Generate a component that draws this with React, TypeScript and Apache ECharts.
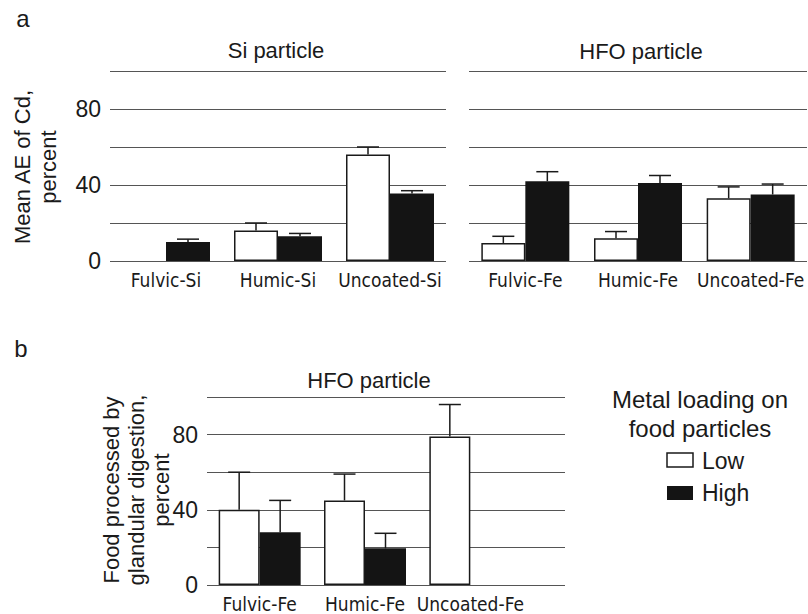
import React, { useEffect, useRef } from "react";
import * as echarts from "echarts";

const siCategories = ["Fulvic-Si", "Humic-Si", "Uncoated-Si"];
const siLow = [null, 16, 56];
const siLowErr = [null, 20, 60];
const siHigh = [10, 13, 35.5];
const siHighErr = [11.5, 14.5, 37];

const feCategories = ["Fulvic-Fe", "Humic-Fe", "Uncoated-Fe"];
const feLow = [9.5, 12, 33];
const feLowErr = [13, 15.5, 39];
const feHigh = [42, 41, 35];
const feHighErr = [47, 45, 40.5];

const digCategories = ["Fulvic-Fe", "Humic-Fe", "Uncoated-Fe"];
const digLow = [40, 45, 79];
const digLowErr = [60, 59, 96];
const digHigh = [28, 19.5, null];
const digHighErr = [45, 27.5, null];

const yTicks = [0, 40, 80];

const FONT = "Liberation Sans";
const NARROW = "'Liberation Sans Narrow', 'DejaVu Sans Condensed', sans-serif";
const INK = "#1a1a1a";
const GRIDC = "#555";

function errData(vals: (number | null)[], errs: (number | null)[], side: number) {
  const out: any[] = [];
  vals.forEach((v, i) => {
    if (v != null && errs[i] != null) out.push([i, v, errs[i], side]);
  });
  return out;
}

function errSeries(xi: number, yi: number, data: any[], bw: number) {
  return {
    type: "custom",
    xAxisIndex: xi,
    yAxisIndex: yi,
    z: 5,
    data,
    renderItem: (params: any, api: any) => {
      const cat = api.value(0);
      const v = api.value(1);
      const top = api.value(2);
      const side = api.value(3);
      const b = api.coord([cat, v]);
      const t = api.coord([cat, top]);
      const x = b[0] + (side * bw) / 2;
      const st = { stroke: INK, lineWidth: 1.5 };
      return {
        type: "group",
        children: [
          { type: "line", shape: { x1: x, y1: b[1], x2: x, y2: t[1] }, style: st },
          { type: "line", shape: { x1: x - 11, y1: t[1], x2: x + 11, y2: t[1] }, style: st },
        ],
      };
    },
  };
}

function yAx(gi: number, showLabel: boolean, showSplit: boolean, margin: number) {
  return {
    type: "value",
    gridIndex: gi,
    min: 0,
    max: 100,
    interval: 20,
    axisLine: { show: false },
    axisTick: { show: false },
    axisLabel: {
      show: showLabel,
      fontFamily: FONT,
      fontSize: 23,
      color: INK,
      margin,
      formatter: (v: number) => (yTicks.includes(v) ? String(v) : ""),
    },
    splitLine: { show: showSplit, lineStyle: { color: GRIDC, width: 1 } },
  };
}

function xAx(gi: number, cats: string[], show: boolean, margin: number) {
  return {
    type: "category",
    gridIndex: gi,
    data: cats,
    axisLine: { show: false },
    axisTick: { show: false },
    axisLabel: {
      show,
      fontFamily: NARROW,
      fontSize: 19,
      color: INK,
      margin,
      interval: 0,
    },
    splitLine: { show: false },
  };
}

const lowStyle = { color: "#fff", borderColor: INK, borderWidth: 1.5 };
const highStyle = { color: "#141414" };

export default function App() {
  const ref = useRef<HTMLDivElement>(null);
  useEffect(() => {
    if (!ref.current) return;
    const chart = echarts.init(ref.current, null, { renderer: "svg" });
    const txt = (x: number, y: number, text: string, size: number, extra: any = {}) => ({
      type: "text",
      x,
      y,
      ...extra,
      style: {
        text,
        fontFamily: FONT,
        fontSize: size,
        fill: INK,
        textAlign: "center",
        textVerticalAlign: "middle",
        ...(extra.style || {}),
      },
    });
    chart.setOption({
      animation: false,
      grid: [
        { left: 110, top: 71, width: 336, height: 190 },
        { left: 469, top: 71, width: 338, height: 190 },
        { left: 207, top: 397, width: 358, height: 188 },
        { left: 207, top: 397, width: 316, height: 188 },
      ],
      xAxis: [
        xAx(0, siCategories, true, 9),
        xAx(1, feCategories, true, 9),
        xAx(2, digCategories, false, 9),
        xAx(3, digCategories, true, 9),
      ],
      yAxis: [
        yAx(0, true, true, 9),
        yAx(1, false, true, 9),
        yAx(2, true, true, 9),
        yAx(3, false, false, 9),
      ],
      series: [
        { type: "bar", name: "Low", xAxisIndex: 0, yAxisIndex: 0, data: siLow, barWidth: 44, barGap: "0%", itemStyle: lowStyle },
        { type: "bar", name: "High", xAxisIndex: 0, yAxisIndex: 0, data: siHigh, barWidth: 44, barGap: "0%", itemStyle: highStyle },
        { type: "bar", name: "Low", xAxisIndex: 1, yAxisIndex: 1, data: feLow, barWidth: 44, barGap: "0%", itemStyle: lowStyle },
        { type: "bar", name: "High", xAxisIndex: 1, yAxisIndex: 1, data: feHigh, barWidth: 44, barGap: "0%", itemStyle: highStyle },
        { type: "bar", name: "Low", xAxisIndex: 3, yAxisIndex: 3, data: digLow, barWidth: 41, barGap: "0%", itemStyle: lowStyle },
        { type: "bar", name: "High", xAxisIndex: 3, yAxisIndex: 3, data: digHigh, barWidth: 41, barGap: "0%", itemStyle: highStyle },
        errSeries(0, 0, errData(siLow, siLowErr, -1), 44),
        errSeries(0, 0, errData(siHigh, siHighErr, 1), 44),
        errSeries(1, 1, errData(feLow, feLowErr, -1), 44),
        errSeries(1, 1, errData(feHigh, feHighErr, 1), 44),
        errSeries(3, 3, errData(digLow, digLowErr, -1), 41),
        errSeries(3, 3, errData(digHigh, digHighErr, 1), 41),
      ],
      graphic: [
        txt(23, 18, "a", 24),
        txt(276, 50, "Si particle", 22),
        txt(641, 51, "HFO particle", 22),
        txt(35, 167, "Mean AE of Cd,\npercent", 22, { rotation: Math.PI / 2, style: { lineHeight: 26 } }),
        txt(21, 348, "b", 24),
        txt(369, 380, "HFO particle", 22),
        txt(136, 490, "Food processed by\nglandular digestion,\npercent", 22, {
          rotation: Math.PI / 2,
          style: { lineHeight: 25 },
        }),
        txt(700, 399, "Metal loading on", 24),
        txt(700, 428, "food particles", 24),
        { type: "rect", shape: { x: 667, y: 453, width: 26, height: 14 }, style: { fill: "#fff", stroke: INK, lineWidth: 1.5 } },
        txt(702, 461, "Low", 23, { style: { textAlign: "left" } }),
        { type: "rect", shape: { x: 667, y: 486, width: 26, height: 14 }, style: { fill: "#141414" } },
        txt(702, 493, "High", 23, { style: { textAlign: "left" } }),
      ],
    });
    return () => chart.dispose();
  }, []);
  return <div ref={ref} style={{ width: 808, height: 614, position: "absolute", left: 0, top: 0 }} />;
}
